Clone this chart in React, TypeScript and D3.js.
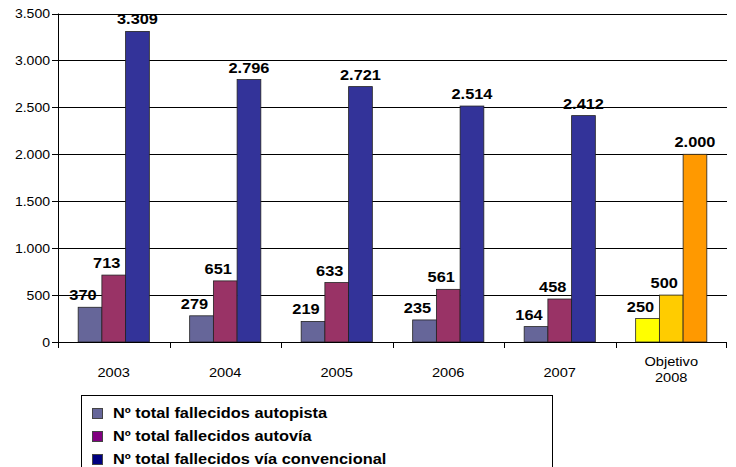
import React from "react";
import * as d3 from "d3";

// Data
const categories = ["2003", "2004", "2005", "2006", "2007", "Objetivo 2008"];
const seriesNames = [
  "Nº total fallecidos autopista",
  "Nº total fallecidos autovía",
  "Nº total fallecidos vía convencional",
];
const autopista = [370, 279, 219, 235, 164, 250];
const autovia = [713, 651, 633, 561, 458, 500];
const convencional = [3309, 2796, 2721, 2514, 2412, 2000];
const yTicks = [0, 500, 1000, 1500, 2000, 2500, 3000, 3500];

const seriesValues = [autopista, autovia, convencional];
const barColors = ["#666699", "#993366", "#333399"];
const targetColors = ["#FFFF00", "#FFCC00", "#FF9900"];
const legendColors = ["#666699", "#800080", "#000080"];

const W = 736;
const H = 467;
const left = 58;
const right = 727;
const top = 13.5;
const bottom = 342;
const SX = 1.17; // horizontal text stretch
const FONT = "'Liberation Sans', Arial, sans-serif";

const fmt = (v: number) => d3.format(",")(v).replace(/,/g, ".");

function Txt(props: {
  x: number;
  y: number;
  size: number;
  bold?: boolean;
  anchor?: "start" | "middle" | "end";
  children: React.ReactNode;
}) {
  const { x, y, size, bold, anchor = "start", children } = props;
  return (
    <text
      transform={`translate(${x},${y}) scale(${SX},1)`}
      fontFamily={FONT}
      fontSize={size}
      fontWeight={bold ? "bold" : "normal"}
      textAnchor={anchor}
      fill="#000"
    >
      {children}
    </text>
  );
}

export default function App() {
  const x = d3.scaleBand<string>().domain(categories).range([left, right]).paddingInner(0).paddingOuter(0);
  const sub = d3
    .scaleBand<number>()
    .domain([0, 1, 2])
    .range([0, x.bandwidth()])
    .paddingInner(0)
    .paddingOuter(0.85);
  const y = d3.scaleLinear().domain([0, 3500]).range([bottom, top]);

  const labelDx = [-7, -7, 0];

  return (
    <svg
      width={W}
      height={H}
      style={{ position: "absolute", left: 0, top: 0, background: "#fff" }}
    >
      <rect x={0} y={0} width={W} height={H} fill="#fff" />
      {/* gridlines */}
      {yTicks.slice(1).map((t) => (
        <line
          key={t}
          x1={left}
          x2={right}
          y1={Math.round(y(t)) + 0.5}
          y2={Math.round(y(t)) + 0.5}
          stroke="#000"
          strokeWidth={1}
        />
      ))}
      {/* y tick labels and ticks */}
      {yTicks.map((t) => (
        <g key={"yt" + t}>
          <line
            x1={left - 6}
            x2={left}
            y1={Math.round(y(t)) + 0.5}
            y2={Math.round(y(t)) + 0.5}
            stroke="#000"
          />
          <Txt x={left - 8} y={y(t) + 4.5} size={12} anchor="end">
            {fmt(t)}
          </Txt>
        </g>
      ))}
      {/* bars */}
      {categories.map((c, ci) => (
        <g key={c}>
          {seriesValues.map((vals, si) => {
            const bx = (x(c) as number) + (sub(si) as number);
            const bw = sub.bandwidth();
            const v = vals[ci];
            const fill = ci === categories.length - 1 ? targetColors[si] : barColors[si];
            return (
              <g key={si}>
                <rect
                  x={bx}
                  y={y(v)}
                  width={bw}
                  height={y(0) - y(v)}
                  fill={fill}
                  stroke="#222"
                  strokeWidth={0.8}
                />
                <Txt x={bx + bw / 2 + labelDx[si]} y={y(v) - 7} size={14} bold anchor="middle">
                  {fmt(v)}
                </Txt>
              </g>
            );
          })}
        </g>
      ))}
      {/* axes */}
      <line x1={left + 0.5} x2={left + 0.5} y1={top} y2={bottom} stroke="#000" />
      <line x1={left} x2={right} y1={Math.round(bottom) + 0.5} y2={Math.round(bottom) + 0.5} stroke="#000" />
      {categories.map((c, i) => (
        <line
          key={"xt" + c}
          x1={Math.round(x(c) as number) + 0.5}
          x2={Math.round(x(c) as number) + 0.5}
          y1={bottom}
          y2={bottom + 6}
          stroke="#000"
        />
      ))}
      <line x1={right - 0.5} x2={right - 0.5} y1={bottom} y2={bottom + 6} stroke="#000" />
      {/* category labels */}
      {categories.map((c) => {
        const cx = (x(c) as number) + x.bandwidth() / 2;
        const parts = c.split(" ");
        if (parts.length === 1) {
          return (
            <Txt key={"xl" + c} x={cx} y={377} size={12.5} anchor="middle">
              {c}
            </Txt>
          );
        }
        return (
          <g key={"xl" + c}>
            <Txt x={cx} y={366} size={12.5} anchor="middle">
              {parts[0]}
            </Txt>
            <Txt x={cx} y={382} size={12.5} anchor="middle">
              {parts[1]}
            </Txt>
          </g>
        );
      })}
      {/* legend */}
      <rect x={81.5} y={395.5} width={471} height={100} fill="#fff" stroke="#000" strokeWidth={1} />
      {seriesNames.map((s, i) => (
        <g key={s}>
          <rect
            x={92.5}
            y={408.5 + i * 23}
            width={10}
            height={10}
            fill={legendColors[i]}
            stroke="#444"
            strokeWidth={1}
          />
          <Txt x={113} y={418 + i * 23} size={14} bold>
            {s}
          </Txt>
        </g>
      ))}
    </svg>
  );
}
